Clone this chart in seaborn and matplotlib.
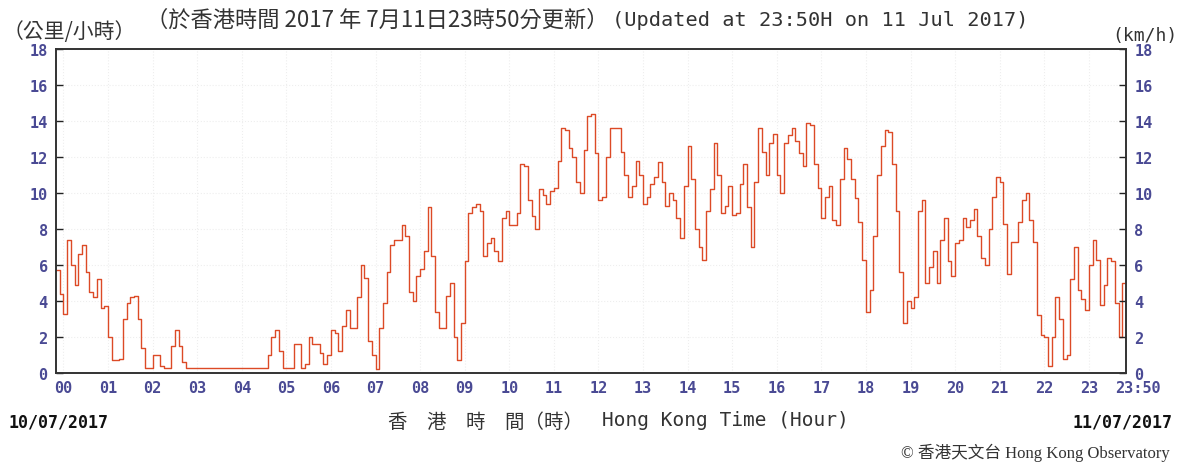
"""Hong Kong Observatory style 10-minute mean wind speed chart."""

import matplotlib

matplotlib.use("Agg")

import matplotlib.pyplot as plt
import matplotlib.transforms as mtransforms
import pandas as pd
import seaborn as sns
from matplotlib.font_manager import FontProperties

# wind speed (km/h), 5-minute readings; LEAD is 23:50 and 23:55 of the day before
LEAD = [5.7, 4.4]
H00 = [3.3, 7.4, 6.0, 4.9, 6.6, 7.1, 5.6, 4.5, 4.2, 5.2, 3.6, 3.7]
H01 = [2.0, 0.7, 0.7, 0.8, 3.0, 3.9, 4.2, 4.3, 3.0, 1.4, 0.3, 0.3]
H02 = [1.0, 1.0, 0.4, 0.3, 0.3, 1.5, 2.4, 1.5, 0.6, 0.3, 0.3, 0.3]
H03 = [0.3, 0.3, 0.3, 0.3, 0.3, 0.3, 0.3, 0.3, 0.3, 0.3, 0.3, 0.3]
H04 = [0.3, 0.3, 0.3, 0.3, 0.3, 0.3, 0.3, 1.0, 2.0, 2.4, 1.2, 0.3]
H05 = [0.3, 0.3, 1.6, 1.6, 0.3, 0.5, 2.0, 1.6, 1.6, 1.1, 0.5, 1.0]
H06 = [2.4, 2.2, 1.2, 2.6, 3.5, 2.5, 2.5, 4.2, 6.0, 5.3, 1.8, 1.0]
H07 = [0.2, 2.5, 3.9, 5.6, 7.1, 7.4, 7.4, 8.2, 7.6, 4.5, 4.0, 5.4]
H08 = [5.8, 6.8, 9.2, 6.5, 3.4, 2.5, 2.5, 4.3, 5.0, 2.0, 0.7, 2.8]
H09 = [6.2, 8.9, 9.2, 9.4, 9.0, 6.5, 7.2, 7.5, 6.8, 6.2, 8.6, 9.0]
H10 = [8.2, 8.2, 8.9, 11.6, 11.5, 9.6, 8.7, 8.0, 10.2, 9.9, 9.4, 10.1]
H11 = [10.3, 11.8, 13.6, 13.5, 12.5, 12.0, 10.6, 10.0, 12.4, 14.3, 14.4, 12.2]
H12 = [9.6, 9.8, 12.0, 13.6, 13.6, 13.6, 12.3, 11.0, 9.8, 10.4, 11.8, 11.0]
H13 = [9.4, 9.8, 10.5, 10.9, 11.7, 10.6, 9.3, 10.0, 9.6, 8.6, 7.5, 10.4]
H14 = [12.6, 10.8, 8.0, 7.0, 6.3, 9.0, 10.2, 12.8, 11.0, 8.9, 9.3, 10.4]
H15 = [8.8, 8.9, 10.5, 11.6, 9.2, 7.0, 10.6, 13.6, 12.3, 11.0, 12.8, 13.3]
H16 = [11.0, 10.0, 12.8, 13.2, 13.6, 12.9, 12.2, 11.5, 13.9, 13.8, 11.6, 10.3]
H17 = [8.6, 9.8, 10.4, 8.5, 8.2, 10.8, 12.5, 11.9, 10.8, 9.7, 8.4, 6.3]
H18 = [3.4, 4.6, 7.6, 11.0, 12.6, 13.5, 13.4, 11.6, 9.0, 5.6, 2.8, 4.0]
H19 = [3.6, 4.2, 9.0, 9.6, 5.0, 5.9, 6.8, 5.0, 7.4, 8.6, 6.2, 5.4]
H20 = [7.2, 7.4, 8.6, 8.1, 8.5, 9.1, 7.6, 6.4, 6.0, 8.0, 9.8, 10.9]
H21 = [10.6, 8.3, 5.5, 7.3, 7.3, 8.4, 9.6, 10.0, 8.5, 7.3, 3.2, 2.1]
H22 = [2.0, 0.4, 2.0, 4.2, 3.0, 0.8, 1.0, 5.2, 7.0, 4.6, 4.1, 3.5]
H23 = [6.0, 7.4, 6.3, 3.8, 4.9, 6.4, 6.2, 3.9, 2.0, 5.0, 5.8]

HOURS = [H00, H01, H02, H03, H04, H05, H06, H07, H08, H09, H10, H11,
         H12, H13, H14, H15, H16, H17, H18, H19, H20, H21, H22, H23]

X_TICKS = list(range(24)) + [23 + 50 / 60]
X_LABELS = [f"{h:02d}" for h in range(24)] + ["23:50"]
Y_TICKS = [0, 2, 4, 6, 8, 10, 12, 14, 16, 18]

# build the time series
times = [-10 / 60, -5 / 60]
speeds = list(LEAD)
for hour, vals in enumerate(HOURS):
    for j, v in enumerate(vals):
        times.append(hour + j * 5 / 60)
        speeds.append(v)
df = pd.DataFrame({"time": times, "speed": speeds})

sns.set_theme(style="white")
plt.rcParams["font.family"] = ["DejaVu Sans", "Noto Sans CJK TC"]

W, H = 1181, 464
fig = plt.figure(figsize=(W / 100, H / 100), dpi=100)
ax = fig.add_axes([56 / W, 1 - 374 / H, (1126 - 56) / W, (374 - 50) / H])

LINE = "#dc4a26"
TICK_COLOR = "#4a4a94"
TEXT = "#333333"

sns.lineplot(data=df, x="time", y="speed", ax=ax, color=LINE, linewidth=1.0,
             drawstyle="steps-post", sort=False)

ax.set_xlim(-10 / 60, 23 + 50 / 60)
ax.set_ylim(0, 18)
ax.set_xticks(X_TICKS)
ax.set_xticklabels(X_LABELS)
ax.set_yticks(Y_TICKS)
ax.set_xlabel("")
ax.set_ylabel("")
ax.grid(True, color="#eeeeee", linewidth=0.8, linestyle=":")

ax2 = ax.twinx()
ax2.set_ylim(0, 18)
ax2.set_yticks(Y_TICKS)
ax2.grid(False)

mono_bold = dict(family="DejaVu Sans Mono", weight="bold", size=11)
for a in (ax, ax2):
    a.tick_params(direction="in", length=5, width=1.0, color="#222222",
                  labelcolor=TICK_COLOR, pad=6)
    for lab in a.get_xticklabels() + a.get_yticklabels():
        lab.set_fontproperties(FontProperties(**mono_bold))
    for sp in a.spines.values():
        sp.set_color("#333333")
        sp.set_linewidth(1.2)
ax.tick_params(axis="x", pad=5)

# the final "23:50" label sits a little right of its tick
last = ax.get_xticklabels()[-1]
last.set_transform(last.get_transform()
                   + mtransforms.ScaledTranslation(12 / 100, 0, fig.dpi_scale_trans))

cjk = ["Noto Sans CJK TC", "DejaVu Sans"]
fig.text(3 / W, 1 - 32 / H, "（公里/小時）", family=cjk, fontsize=15,
         color=TEXT, ha="left", va="center")
fig.text(146 / W, 1 - 20 / H, "（於香港時間 2017 年 7月11日23時50分更新）",
         family=cjk, fontsize=16, color=TEXT, ha="left", va="center")
fig.text(612 / W, 1 - 20 / H, "(Updated at 23:50H on 11 Jul 2017)",
         family="DejaVu Sans Mono", fontsize=14.6, color=TEXT,
         ha="left", va="center")
fig.text(1177 / W, 1 - 36 / H, "(km/h)", family="DejaVu Sans Mono",
         fontsize=13, color=TEXT, ha="right", va="center")

fig.text(8 / W, 1 - 423 / H, "10/07/2017", family="DejaVu Sans Mono",
         weight="bold", fontsize=12, color="#111111", ha="left", va="center")
fig.text(1173 / W, 1 - 423 / H, "11/07/2017", family="DejaVu Sans Mono",
         weight="bold", fontsize=12, color="#111111", ha="right", va="center")
fig.text(388 / W, 1 - 422 / H, "香　港　時　間（時）", family=cjk, fontsize=14,
         color=TEXT, ha="left", va="center")
fig.text(602 / W, 1 - 421 / H, "Hong Kong Time (Hour)",
         family="DejaVu Sans Mono", fontsize=14, color=TEXT,
         ha="left", va="center")
fig.text(1170 / W, 1 - 453 / H, "© 香港天文台 Hong Kong Observatory",
         family=["Liberation Serif", "Noto Sans CJK TC"], fontsize=12,
         color=TEXT, ha="right", va="center")

fig.savefig("out.png", dpi=100)
